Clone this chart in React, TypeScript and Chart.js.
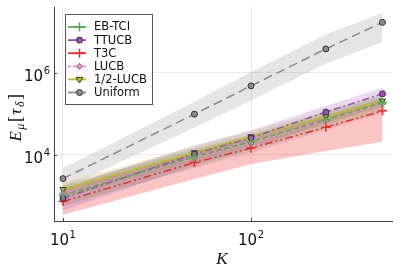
import React, { useEffect, useRef } from "react";
import { Chart, registerables } from "chart.js";

Chart.register(...registerables);

// ---------------- data ----------------
const K = [10, 50, 100, 250, 500];
const xTickValues = [10, 100];
const yTickValues = [1e4, 1e6];
const xTickExp = ["1", "2"];
const yTickExp = ["4", "6"];

const seriesNames = ["EB-TCI", "TTUCB", "T3C", "LUCB", "1/2-LUCB", "Uniform"];

const ebtciMean = [1050, 9000, 21000, 72000, 190000];
const ebtciLow = [550, 5000, 12000, 42000, 110000];
const ebtciHigh = [1800, 14000, 32000, 110000, 280000];

const ttucbMean = [880, 10500, 26000, 110000, 307000];
const ttucbLow = [450, 5500, 14000, 60000, 160000];
const ttucbHigh = [1600, 17000, 40000, 155000, 430000];

const t3cMean = [727, 6500, 14600, 47000, 118000];
const t3cLow = [350, 2600, 6000, 12500, 21000];
const t3cHigh = [1500, 11500, 26000, 90000, 230000];

const lucbMean = [1150, 8300, 19500, 68000, 175000];
const lucbLow = [600, 4800, 11000, 40000, 100000];
const lucbHigh = [2000, 13000, 30000, 100000, 260000];

const halfLucbMean = [1450, 11400, 27900, 86000, 207000];
const halfLucbLow = [900, 7000, 17000, 55000, 140000];
const halfLucbHigh = [2100, 16000, 38000, 120000, 290000];

const uniformMean = [2640, 98000, 480000, 3800000, 16900000];
const uniformLow = [1500, 46000, 215000, 1660000, 5500000];
const uniformHigh = [4700, 196000, 1050000, 8700000, 28600000];

// ---------------- styles ----------------
type Style = {
  color: string;
  band: string;
  dash: number[];
  legendDash: number[];
  marker: "cross" | "circle" | "diamond" | "tridown";
  markerFill: string;
  markerBorder: string;
  radius: number;
};

const styles: Style[] = [
  { color: "#4cb050", band: "rgba(76,176,80,0.20)", dash: [5, 3], legendDash: [], marker: "cross", markerFill: "#4cb050", markerBorder: "#4cb050", radius: 4.5 },
  { color: "#9b4fb8", band: "rgba(155,79,184,0.22)", dash: [7, 3, 2, 3], legendDash: [], marker: "circle", markerFill: "#9b4fb8", markerBorder: "#3a2a40", radius: 3 },
  { color: "#f02828", band: "rgba(240,40,40,0.27)", dash: [8, 3, 2, 3, 2, 3], legendDash: [], marker: "cross", markerFill: "#f02828", markerBorder: "#f02828", radius: 4.5 },
  { color: "#f58ccb", band: "rgba(245,140,203,0.20)", dash: [4, 3], legendDash: [3, 2], marker: "diamond", markerFill: "#f58ccb", markerBorder: "#a04a80", radius: 3 },
  { color: "#bdbd1c", band: "rgba(189,189,28,0.22)", dash: [], legendDash: [], marker: "tridown", markerFill: "#bdbd1c", markerBorder: "#333", radius: 3.5 },
  { color: "#8c8c8c", band: "rgba(150,150,150,0.25)", dash: [9, 5], legendDash: [], marker: "circle", markerFill: "#8c8c8c", markerBorder: "#333", radius: 3 },
];

const means = [ebtciMean, ttucbMean, t3cMean, lucbMean, halfLucbMean, uniformMean];
const lows = [ebtciLow, ttucbLow, t3cLow, lucbLow, halfLucbLow, uniformLow];
const highs = [ebtciHigh, ttucbHigh, t3cHigh, lucbHigh, halfLucbHigh, uniformHigh];

const pts = (arr: number[]) => arr.map((v, i) => ({ x: K[i], y: v }));

function pointStyleOf(s: Style): any {
  if (s.marker === "cross") return "cross";
  if (s.marker === "circle") return "circle";
  if (s.marker === "diamond") return "rectRot";
  return "triangle";
}

function drawMarker(ctx: CanvasRenderingContext2D, s: Style, x: number, y: number) {
  ctx.save();
  ctx.setLineDash([]);
  ctx.fillStyle = s.markerFill;
  ctx.strokeStyle = s.markerBorder;
  ctx.lineWidth = 1;
  const r = s.radius;
  ctx.beginPath();
  if (s.marker === "cross") {
    ctx.lineWidth = 1.5;
    ctx.moveTo(x - r, y);
    ctx.lineTo(x + r, y);
    ctx.moveTo(x, y - r);
    ctx.lineTo(x, y + r);
    ctx.stroke();
  } else if (s.marker === "circle") {
    ctx.arc(x, y, r, 0, Math.PI * 2);
    ctx.fill();
    ctx.stroke();
  } else if (s.marker === "diamond") {
    ctx.moveTo(x, y - r);
    ctx.lineTo(x + r, y);
    ctx.lineTo(x, y + r);
    ctx.lineTo(x - r, y);
    ctx.closePath();
    ctx.fill();
    ctx.stroke();
  } else {
    ctx.moveTo(x - r, y - r * 0.6);
    ctx.lineTo(x + r, y - r * 0.6);
    ctx.lineTo(x, y + r);
    ctx.closePath();
    ctx.fill();
    ctx.stroke();
  }
  ctx.restore();
}

function drawPow(ctx: CanvasRenderingContext2D, base: string, exp: string, x: number, baseline: number, align: "center" | "right") {
  ctx.save();
  ctx.fillStyle = "#111";
  ctx.textAlign = "left";
  ctx.textBaseline = "alphabetic";
  const mainFont = "15px 'DejaVu Sans'";
  const supFont = "10px 'DejaVu Sans'";
  ctx.font = mainFont;
  const wb = ctx.measureText(base).width;
  ctx.font = supFont;
  const we = ctx.measureText(exp).width;
  const total = wb + we + 0.5;
  const left = align === "center" ? x - total / 2 : x - total;
  ctx.font = mainFont;
  ctx.fillText(base, left, baseline);
  ctx.font = supFont;
  ctx.fillText(exp, left + wb + 0.5, baseline - 7.5);
  ctx.restore();
}

const overlayPlugin = {
  id: "overlay",
  afterDraw(chart: any) {
    const ctx: CanvasRenderingContext2D = chart.ctx;
    const xs = chart.scales.x;
    const ys = chart.scales.y;
    const area = chart.chartArea;

    // tick labels
    xTickValues.forEach((v, i) => {
      drawPow(ctx, "10", xTickExp[i], xs.getPixelForValue(v), area.bottom + 24, "center");
    });
    yTickValues.forEach((v, i) => {
      drawPow(ctx, "10", yTickExp[i], area.left - 4, ys.getPixelForValue(v) + 8.5, "right");
    });

    // small tick marks
    ctx.save();
    ctx.strokeStyle = "#444";
    ctx.lineWidth = 1;
    xTickValues.forEach((v) => {
      const px = Math.round(xs.getPixelForValue(v)) + 0.5;
      ctx.beginPath();
      ctx.moveTo(px, area.bottom);
      ctx.lineTo(px, area.bottom - 3);
      ctx.stroke();
    });
    yTickValues.forEach((v) => {
      const py = Math.round(ys.getPixelForValue(v)) + 0.5;
      ctx.beginPath();
      ctx.moveTo(area.left, py);
      ctx.lineTo(area.left + 3, py);
      ctx.stroke();
    });
    ctx.restore();

    // x axis title
    ctx.save();
    ctx.fillStyle = "#111";
    ctx.font = "italic 17px 'Liberation Serif'";
    ctx.textAlign = "center";
    ctx.textBaseline = "alphabetic";
    ctx.fillText("K", (area.left + area.right) / 2 - 1, 264);
    ctx.restore();

    // y axis title  E_μ[τ_δ]
    ctx.save();
    ctx.translate(21, (area.top + area.bottom) / 2 + 3);
    ctx.rotate(-Math.PI / 2);
    ctx.fillStyle = "#111";
    ctx.textBaseline = "alphabetic";
    ctx.textAlign = "left";
    const pieces: [string, string, number][] = [
      ["E", "italic 17px 'Liberation Serif'", 0],
      ["μ", "italic 12px 'Liberation Serif'", 3],
      ["[", "18px 'Liberation Serif'", 0],
      ["τ", "italic 17px 'Liberation Serif'", 0],
      ["δ", "italic 12px 'Liberation Serif'", 3],
      ["]", "18px 'Liberation Serif'", 0],
    ];
    let tw = 0;
    const widths = pieces.map(([t, f]) => {
      ctx.font = f;
      const w = ctx.measureText(t).width + 1.5;
      tw += w;
      return w;
    });
    let cx = -tw / 2;
    pieces.forEach(([t, f, dy], i) => {
      ctx.font = f;
      ctx.fillText(t, cx, dy);
      cx += widths[i];
    });
    ctx.restore();

    // legend
    ctx.save();
    const lx = 65.5, ly = 14.5, lw = 87, lh = 90;
    ctx.fillStyle = "#fff";
    ctx.fillRect(lx, ly, lw, lh);
    ctx.strokeStyle = "#555";
    ctx.lineWidth = 1;
    ctx.strokeRect(lx, ly, lw, lh);
    ctx.font = "11.5px 'DejaVu Sans'";
    ctx.textBaseline = "middle";
    ctx.textAlign = "left";
    seriesNames.forEach((name, i) => {
      const s = styles[i];
      const y = 27 + i * 13.1;
      ctx.save();
      ctx.strokeStyle = s.color;
      ctx.lineWidth = 1.8;
      ctx.setLineDash(s.legendDash);
      ctx.beginPath();
      ctx.moveTo(68, y);
      ctx.lineTo(86, y);
      ctx.stroke();
      ctx.restore();
      drawMarker(ctx, s, 79.5, y);
      ctx.fillStyle = "#111";
      ctx.fillText(name, 94, y + 0.5);
    });
    ctx.restore();
  },
};

export default function App() {
  const ref = useRef<HTMLCanvasElement | null>(null);

  useEffect(() => {
    if (!ref.current) return;
    const datasets: any[] = [];
    // lines (drawn on top)
    seriesNames.forEach((name, i) => {
      const s = styles[i];
      datasets.push({
        label: name,
        data: pts(means[i]),
        borderColor: s.color,
        backgroundColor: s.markerFill,
        borderWidth: 1.5,
        borderDash: s.dash,
        pointStyle: pointStyleOf(s),
        pointRotation: s.marker === "tridown" ? 180 : 0,
        pointRadius: s.marker === "cross" ? 4.5 : s.radius,
        pointBorderColor: s.markerBorder,
        pointBackgroundColor: s.markerFill,
        pointBorderWidth: s.marker === "cross" ? 1.5 : 1,
        fill: false,
        tension: 0,
        order: 0,
      });
    });
    // bands
    seriesNames.forEach((name, i) => {
      const s = styles[i];
      datasets.push({
        label: name + " high",
        data: pts(highs[i]),
        borderWidth: 0,
        pointRadius: 0,
        fill: false,
        order: 1,
      });
      datasets.push({
        label: name + " low",
        data: pts(lows[i]),
        borderWidth: 0,
        pointRadius: 0,
        backgroundColor: s.band,
        fill: "-1",
        order: 1,
      });
    });

    const chart = new Chart(ref.current, {
      type: "line",
      data: { datasets },
      options: {
        responsive: false,
        maintainAspectRatio: false,
        animation: false,
        layout: { padding: { left: 54, right: 7, top: 7, bottom: 45 } },
        plugins: {
          legend: { display: false },
          tooltip: { enabled: false },
        },
        scales: {
          x: {
            type: "logarithmic",
            min: 8.96,
            max: 562,
            ticks: { display: false },
            grid: { color: "#ebebeb", drawTicks: false, lineWidth: 1 },
            border: { color: "#444", width: 1 },
            afterBuildTicks: (s: any) => {
              s.ticks = xTickValues.map((v) => ({ value: v }));
            },
          },
          y: {
            type: "logarithmic",
            min: 245,
            max: 4e7,
            ticks: { display: false },
            grid: { color: "#ebebeb", drawTicks: false, lineWidth: 1 },
            border: { color: "#444", width: 1 },
            afterBuildTicks: (s: any) => {
              s.ticks = yTickValues.map((v) => ({ value: v }));
            },
          },
        },
      } as any,
      plugins: [overlayPlugin],
    });
    return () => chart.destroy();
  }, []);

  return (
    <div style={{ position: "absolute", left: 0, top: 0, width: 399, height: 266, background: "#fff" }}>
      <canvas ref={ref} width={399} height={266} style={{ display: "block", width: 399, height: 266 }} />
    </div>
  );
}
